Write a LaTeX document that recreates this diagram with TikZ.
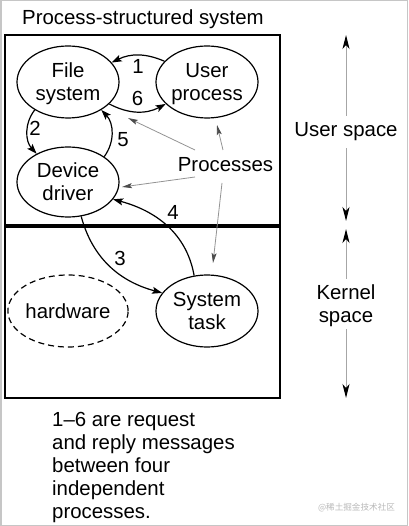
\documentclass[tikz,border=0pt]{standalone}
\usepackage{fontspec}
\setmainfont{Liberation Sans}
\newfontfamily\cjkfont{Noto Sans CJK SC}
\usetikzlibrary{arrows.meta,shapes.geometric}
\begin{document}
\begin{tikzpicture}[x=1pt,y=1pt,
  every node/.style={font=\fontsize{20.4}{23}\selectfont},
  ell/.style={draw, ellipse, line width=1.2pt, minimum width=102pt, minimum height=72pt, inner sep=0pt, align=center, text depth=0pt},
  msg/.style={line width=1.2pt, -{Stealth[length=10pt,width=7pt,inset=2pt]}},
  garr/.style={draw=gray!85, line width=0.8pt, -{Stealth[length=10pt,width=5pt,inset=2pt,black!70]}},
  sarr/.style={draw=gray!70, line width=1pt, -{Stealth[length=14pt,width=7pt,inset=4pt,black]}},
  lbl/.style={inner sep=0pt},
]
\useasboundingbox (0,0) rectangle (408,-526);
\draw[gray!45, line width=1.5pt] (0.75,-0.75) rectangle (407.25,-525.25);

% title
\node[lbl, anchor=base west] (title) at (22,-25) {Process-structured system};

% main box and divider
\draw[line width=2pt] (5,-35) rectangle (280,-398);
\coordinate (divL) at (5,-226);
\coordinate (divR) at (280,-226);
\draw[line width=3pt] (divL) -- (divR);

% processes
\node[ell] (fs) at (68,-82)  {File\\system};
\node[ell] (up) at (207,-82) {User\\process};
\node[ell, minimum height=70pt] (dd) at (68,-182) {Device\\driver};
\node[ell] (st) at (207,-311) {System\\task};
\node[ell, dashed, dash pattern=on 6pt off 4pt] (hw) at (68,-311) {hardware};

% messages
\draw[msg] (up.154) to[bend right=25] node[lbl, pos=0.5, below=4pt] (m1) {1} (fs.24);
\draw[msg] (fs.-28) to[bend right=28] node[lbl, pos=0.5, above=5pt] (m6) {6} (up.-152);
\draw[msg] (fs.-140) to[bend right=40] (dd.138);
\node[lbl] (m2) at (35,-128) {2};
\draw[msg] (dd.35) to[bend right=40] (fs.-40);
\node[lbl] (m5) at (123,-140) {5};
\draw[msg] (dd.-69) to[out=-75,in=165] (st.158);
\node[lbl] (m3) at (120,-258) {3};
\draw[msg] (st.110) to[out=100,in=-15] (dd.-21);
\node[lbl] (m4) at (173,-212) {4};

% Processes pointers
\node[lbl] (proc) at (225.5,-165) {Processes};
\coordinate (pa) at (195,-150);
\coordinate (pb) at (195,-177);
\coordinate (pc) at (223,-150);
\coordinate (pd) at (222,-183);
\coordinate (ta) at (128,-118);
\coordinate (tb) at (122,-187);
\coordinate (tc) at (217,-125);
\coordinate (td) at (213,-263);
\draw[garr] (pa) -- (ta);
\draw[garr] (pb) -- (tb);
\draw[garr] (pc) -- (tc);
\draw[garr] (pd) -- (td);

% space arrows
\node[inner xsep=0pt, inner ysep=7pt, anchor=base] (us) at (346,-137) {User space};
\node[inner xsep=0pt, inner ysep=6pt, align=center, text depth=0pt] (ks) at (346,-304) {Kernel\\space};
\coordinate (usT) at (346,-35);
\coordinate (usB) at (346,-221);
\coordinate (ksT) at (346,-229);
\coordinate (ksB) at (346,-398);
\draw[sarr] (us.north) -- (usT);
\draw[sarr] (us.south) -- (usB);
\draw[sarr] (ks.north) -- (ksT);
\draw[sarr] (ks.south) -- (ksB);

% note
\node[lbl, anchor=north west, align=left] (note) at (52,-412.5)
  {1--6 are request\\and reply messages\\between four\\independent\\processes.};

% watermark
\node[lbl, text=gray!55, font=\cjkfont\fontsize{8.6}{10}\selectfont] (wm) at (356.5,-508) {@稀土掘金技术社区};
\end{tikzpicture}
\end{document}
